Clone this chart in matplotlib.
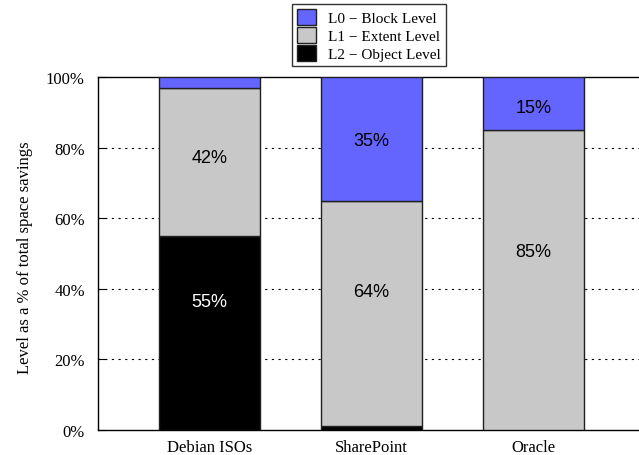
import matplotlib
matplotlib.use("Agg")
import matplotlib.pyplot as plt
from matplotlib.patches import Patch
import numpy as np

categories = ["Debian ISOs", "SharePoint", "Oracle"]
l2_object = [55, 1, 0]
l1_extent = [42, 64, 85]
l0_block = [3, 35, 15]
series_names = ["L0 \u2212 Block Level", "L1 \u2212 Extent Level", "L2 \u2212 Object Level"]

# in-bar labels: (category index, text, y position in %, text colour)
bar_labels = [
    (0, "55%", 36.5, "white"),
    (0, "42%", 77.3, "black"),
    (1, "64%", 39.1, "black"),
    (1, "35%", 81.9, "black"),
    (2, "85%", 50.7, "black"),
    (2, "15%", 91.5, "black"),
]

c_blue = "#6464ff"
c_gray = "#c8c8c8"
c_black = "#000000"

fig = plt.figure(figsize=(6.39, 4.56), dpi=100)
ax = fig.add_axes([98/639, 25/456, (645-98)/639, 353/456])

x = np.arange(len(categories))
w = 0.623
l2 = np.array(l2_object)
l1 = np.array(l1_extent)
l0 = np.array(l0_block)
ax.bar(x, l2, w, color=c_black, edgecolor="#202020", linewidth=1.0, zorder=3)
ax.bar(x, l1, w, bottom=l2, color=c_gray, edgecolor="#202020", linewidth=1.0, zorder=3)
ax.bar(x, l0, w, bottom=l2 + l1, color=c_blue, edgecolor="#202020", linewidth=1.0, zorder=3)

for i, txt, yy, col in bar_labels:
    ax.text(x[i], yy, txt, ha="center", va="center", color=col,
            fontsize=13, family="Liberation Sans", zorder=4)

ax.set_xlim(-0.688, 2.688)
ax.set_ylim(0, 100)
ax.set_yticks([0, 20, 40, 60, 80, 100])
ax.set_yticklabels(["0%", "20%", "40%", "60%", "80%", "100%"])
ax.set_xticks(x)
ax.set_xticklabels(categories)
for lab in ax.get_xticklabels() + ax.get_yticklabels():
    lab.set_family("Liberation Serif")
    lab.set_fontsize(12)
ax.tick_params(axis="y", direction="in", length=6, width=0.8, pad=9.5)
ax.tick_params(axis="x", length=0, pad=6.5)
for yv in [20, 40, 60, 80]:
    ax.axhline(yv, color="black", linestyle=(0, (2, 4)), linewidth=0.8, zorder=1)
for s in ax.spines.values():
    s.set_linewidth(1.0)
ax.spines["right"].set_visible(False)

ax.set_ylabel("Level as a % of total space savings", family="Liberation Serif", fontsize=12)
ax.yaxis.set_label_coords(-0.1188, 0.491)

handles = [Patch(facecolor=c_blue, edgecolor="#202020"),
           Patch(facecolor=c_gray, edgecolor="#202020"),
           Patch(facecolor=c_black, edgecolor="#202020")]
leg = fig.legend(handles, series_names, loc="upper left", bbox_to_anchor=(292/639, 1 - 5/456),
                 prop={"family": "Liberation Serif", "size": 11}, frameon=True, fancybox=False,
                 edgecolor="black", handlelength=1.2, handleheight=1.2, handletextpad=0.8,
                 labelspacing=0.12, borderpad=0.35, borderaxespad=0)
leg.get_frame().set_linewidth(1.0)

fig.savefig("out.png", dpi=100)
